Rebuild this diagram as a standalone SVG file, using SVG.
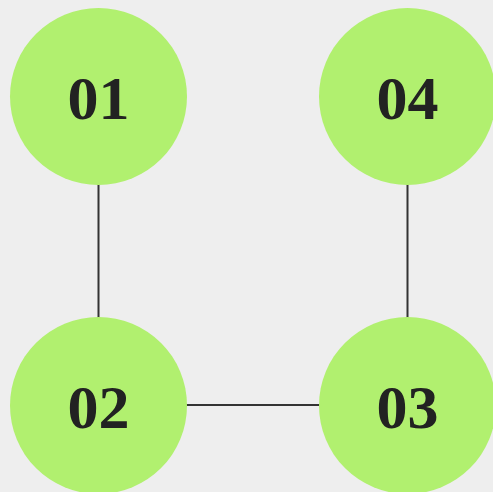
<svg xmlns="http://www.w3.org/2000/svg" width="493" height="492" viewBox="0 0 493 492">
<style>
.node circle{fill:#b1f06f}
.node text{font-family:"Liberation Serif","DejaVu Serif",serif;font-weight:bold;font-size:62px;fill:#222222;text-anchor:middle}
.edges line{stroke:#333333;stroke-width:2}
</style>
<rect width="493" height="492" fill="#eeeeee"/>
<g class="edges">
<line x1="98.5" y1="184" x2="98.5" y2="318"/>
<line x1="407.5" y1="184" x2="407.5" y2="318"/>
<line x1="186" y1="405" x2="320" y2="405"/>
</g>
<g id="n01" class="node"><circle cx="98.5" cy="96.5" r="88.5"/><text x="98.5" y="119">01</text></g>
<g id="n04" class="node"><circle cx="407.5" cy="96.5" r="88.5"/><text x="407.5" y="119">04</text></g>
<g id="n02" class="node"><circle cx="98.5" cy="405.5" r="88.5"/><text x="98.5" y="428">02</text></g>
<g id="n03" class="node"><circle cx="407.5" cy="405.5" r="88.5"/><text x="407.5" y="428">03</text></g>
</svg>
